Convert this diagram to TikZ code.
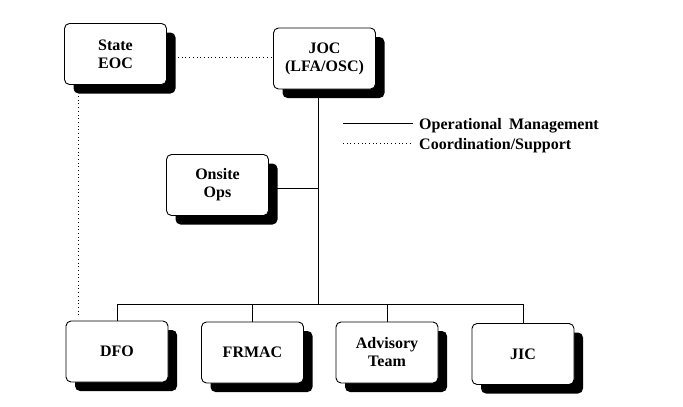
\documentclass[tikz,border=0pt]{standalone}
\usepackage{fontspec}
\setmainfont{Liberation Serif}[BoldFont={Liberation Serif Bold}]
\usetikzlibrary{shadows,backgrounds}
\tikzset{
  orgbox/.style={draw=black, line width=0.9pt, fill=white, rounded corners=5pt,
    minimum width=102pt, minimum height=61pt, align=center, inner sep=2pt,
    font=\rmfamily\bfseries\fontsize{16}{18}\selectfont,
    drop shadow={shadow xshift=9pt, shadow yshift=-9pt, fill=black, opacity=1, rounded corners=5pt}},
  solidlink/.style={draw=black, line width=0.9pt},
  dotlink/.style={draw=black, line width=0.9pt, dash pattern=on 0.9pt off 2.8pt},
  legendtext/.style={anchor=base west, inner sep=0pt, font=\rmfamily\bfseries\fontsize{16}{18}\selectfont}
}
\begin{document}
\begin{tikzpicture}[x=1pt,y=-1pt]
\useasboundingbox (0,0) rectangle (683,407);
\node[orgbox] (state) at (115.5,54) {State\\EOC};
\node[orgbox] (joc) at (324.5,58.5) {JOC\\(LFA/OSC)};
\node[orgbox] (onsite) at (217.5,185) {Onsite\\Ops};
\node[orgbox] (dfo) at (117,351.5) {DFO};
\node[orgbox] (frmac) at (252.5,352.5) {FRMAC};
\node[orgbox] (adv) at (387,352.5) {Advisory\\Team};
\node[orgbox] (jic) at (523,354) {JIC};
\coordinate (bus) at (318,304);
\coordinate (dfodot) at (78,318);
\begin{scope}[on background layer]
  \draw[solidlink] (joc.south -| bus) -- (bus);
  \draw[solidlink] (onsite.east |- 0,188) -- (bus |- 0,188);
  \draw[solidlink] (dfo.north) -- (dfo.north |- bus) -- (jic.north |- bus) -- (jic.north);
  \draw[solidlink] (frmac.north) -- (frmac.north |- bus);
  \draw[solidlink] (adv.north) -- (adv.north |- bus);
  \draw[dotlink] (state.east |- 0,57) -- (joc.west |- 0,57);
  \draw[dotlink] (state.south -| dfodot) -- (dfodot);
\end{scope}
% legend
\coordinate (l1a) at (343,123);
\coordinate (l1b) at (413,123);
\coordinate (l2a) at (343,143);
\coordinate (l2b) at (413,143);
\draw[solidlink] (l1a) -- (l1b);
\draw[dotlink] (l2a) -- (l2b);
\node[legendtext] (opm) at (419,129) {Operational\hspace{0.45em}Management};
\node[legendtext] (coord) at (419,149) {Coordination/Support};
\end{tikzpicture}
\end{document}
